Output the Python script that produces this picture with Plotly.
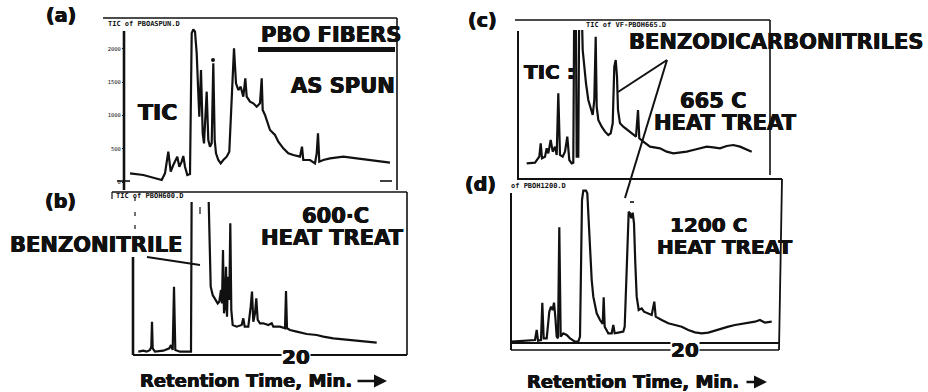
import plotly.graph_objects as go

W, H = 928, 392

# ---------------- data (retention time in minutes, TIC abundance in counts) -------------
# (a) PBO fibers as spun
A_TIME = [5.70, 7.03, 8.87, 9.20, 9.53, 9.77, 10.03, 10.27, 10.43, 10.63, 10.87, 11.03, 11.20, 11.43,
          11.70, 11.87, 12.03, 12.20, 12.37, 12.53, 12.63, 12.80, 12.97, 13.10, 13.23, 13.37, 13.53,
          13.70, 13.87, 14.03, 14.17, 14.30, 14.53, 14.77, 15.03, 15.37, 15.63, 15.87, 16.10, 16.30,
          16.53, 16.77, 17.03, 17.23, 17.37, 17.70, 18.03, 18.37, 18.70, 18.87, 18.97, 19.20, 19.70,
          20.20, 20.53, 21.03, 21.53, 22.03, 22.70, 22.90, 23.03, 23.70, 24.20, 24.37, 24.50, 24.63,
          25.03, 25.70, 27.03, 28.37, 29.70, 30.70, 31.70]
A_TIC = [130, 105, 30, 130, 455, 155, 255, 330, 380, 230, 305, 390, 230, 105,
         120, 2230, 2290, 2255, 1930, 1330, 980, 1680, 730, 580, 1080, 1355, 630,
         530, 580, 1780, 630, 430, 330, 280, 330, 380, 455, 1230, 2005, 1480,
         1380, 1430, 1280, 1555, 1280, 1205, 1180, 1130, 1180, 1555, 1080, 1005, 780,
         705, 605, 505, 430, 405, 380, 530, 330, 330, 280, 430, 730, 305,
         330, 355, 380, 355, 330, 320, 290]

# (b) 600 C heat treat
B_TIME = [4.23, 4.73, 5.07, 5.40, 5.53, 5.60, 5.67, 5.90, 6.73, 7.33, 7.50, 7.67, 7.80, 7.93, 8.40,
          9.23, 9.50, 9.57, 11.20, 11.27, 11.33, 11.40, 11.47, 11.67, 11.90, 12.17, 12.33, 12.50,
          12.60, 12.70, 12.80, 12.90, 13.00, 13.10, 13.20, 13.33, 13.43, 13.53, 13.67, 14.07, 14.57,
          14.73, 14.87, 15.23, 15.47, 15.60, 15.73, 15.90, 16.03, 16.17, 16.40, 16.73, 17.23, 17.57,
          17.73, 18.40, 18.90, 19.00, 19.10, 19.40, 20.07, 21.07, 22.07, 22.73, 23.73, 24.73, 25.73,
          26.73, 27.40, 28.07]
B_TIC = [20, 35, 20, 45, 95, 470, 70, 20, 35, 70, 120, 45, 995, 45, 20,
         20, 20, 2600, 2600, 2270, 1845, 1345, 995, 870, 820, 745, 770, 945,
         745, 1545, 595, 695, 1295, 545, 1145, 795, 1945, 645, 420, 395, 420,
         520, 395, 395, 695, 920, 470, 595, 820, 495, 445, 445, 420, 445,
         395, 395, 370, 930, 370, 345, 320, 285, 270, 245, 220, 205, 195,
         180, 160, 155]

# (c) 665 C heat treat
C_TIME = [4.17, 5.00, 5.43, 5.57, 5.70, 6.00, 6.17, 6.33, 6.57, 6.77, 7.00, 7.17, 7.33, 7.50, 7.77,
          8.00, 8.23, 8.43, 8.67, 8.83, 8.93, 9.07, 9.17, 9.33, 9.43, 9.63, 9.77, 9.90, 10.10, 10.33,
          10.60, 10.77, 10.93, 11.07, 11.17, 11.33, 11.67, 12.00, 12.33, 12.57, 12.77, 12.93, 13.07,
          13.20, 13.30, 13.50, 13.83, 14.50, 15.10, 15.30, 15.43, 15.83, 16.50, 17.50, 18.17, 18.83,
          19.50, 20.17, 20.83, 21.50, 22.17, 22.83, 23.50, 24.17, 24.83, 25.50, 26.17, 26.67]
C_TIC = [10, 20, 110, 310, 85, 110, 235, 160, 360, 185, 260, 135, 1060, 135, 110,
         185, 410, 60, 10, 20, 2600, 2600, 110, 110, 2600, 2600, 1710, 1460, 1210, 960,
         810, 735, 960, 1910, 860, 660, 560, 485, 435, 460, 610, 1460, 1560,
         1310, 810, 610, 560, 485, 410, 810, 385, 335, 260, 235, 185, 160,
         170, 185, 210, 235, 260, 250, 235, 270, 285, 260, 210, 185]

# (d) 1200 C heat treat
D_TIME = [2.67, 4.50, 5.00, 5.17, 5.30, 5.60, 5.73, 5.87, 6.17, 6.43, 6.60, 6.77, 6.90, 7.03, 7.17,
          7.30, 7.43, 7.57, 7.83, 8.17, 8.50, 9.00, 9.33, 9.50, 9.60, 9.70, 9.83, 10.10, 10.23, 10.37,
          10.50, 10.67, 10.83, 11.17, 11.50, 11.77, 11.87, 11.97, 12.33, 12.67, 12.83, 12.97, 13.33,
          13.83, 13.97, 14.10, 14.23, 14.37, 14.50, 14.63, 14.77, 14.90, 15.03, 15.17, 15.37, 15.67,
          15.90, 16.33, 16.67, 16.93, 17.07, 17.67, 18.33, 19.00, 19.67, 20.33, 21.00, 21.67, 22.33,
          23.00, 23.67, 24.33, 25.00, 25.67, 26.33, 27.00, 27.50, 28.00, 28.67]
D_TIC = [5, 20, 30, 180, 20, 30, 590, 55, 55, 455, 530, 480, 590, 380, 80,
         55, 1720, 80, 130, 105, 55, 5, 5, 80, 1080, 2130, 2270, 2270, 2230, 1830,
         1330, 930, 680, 430, 330, 270, 670, 230, 130, 130, 255, 130, 140,
         155, 230, 830, 1580, 1955, 1930, 1855, 1940, 1780, 1180, 680, 480, 505,
         455, 430, 405, 605, 380, 330, 280, 255, 230, 180, 145, 130, 140,
         170, 205, 230, 255, 270, 290, 305, 330, 290, 305]

A_YTICKS = [0, 500, 1000, 1500, 2000]
A_YTICK_LABELS = ["0", "500", "1000", "1500", "2000"]
D_XTICKS = [7.3, 11.9, 16.5, 26.2]
D_XTICK_LABELS = ["10", "12", "14", "18"]


def fx(x):
    return x / W


def fy(y):
    return 1 - y / H


INK = "#111111"
FONT = "DejaVu Sans"
HEAVY = "0.45px 0 0 #111111, -0.45px 0 0 #111111, 0 0.35px 0 #111111"

fig = go.Figure()
for i, (t, v) in enumerate([(A_TIME, A_TIC), (B_TIME, B_TIC), (C_TIME, C_TIC), (D_TIME, D_TIC)]):
    sfx = "" if i == 0 else str(i + 1)
    fig.add_trace(go.Scatter(x=t, y=v, xaxis="x" + sfx, yaxis="y" + sfx, mode="lines",
                             line=dict(color=INK, width=2.2), hoverinfo="skip"))

hidden = dict(visible=False, showgrid=False, zeroline=False, fixedrange=True)
fig.update_layout(
    width=W, height=H, margin=dict(l=0, r=0, t=0, b=0),
    paper_bgcolor="white", plot_bgcolor="white", showlegend=False,
    xaxis=dict(hidden, domain=[fx(103), fx(397)], range=[3, 32.4], anchor="y"),
    yaxis=dict(domain=[fy(190), fy(19)], range=[-120, 2445], anchor="free", position=fx(124),
               visible=True, showgrid=False, zeroline=False, showline=False,
               tickvals=A_YTICKS, ticktext=A_YTICK_LABELS, ticks="outside", ticklen=2,
               tickcolor=INK, tickfont=dict(family="DejaVu Sans Mono", size=5.5, color=INK)),
    xaxis2=dict(hidden, domain=[fx(112), fx(407)], range=[1.6, 31.1], anchor="y2"),
    yaxis2=dict(hidden, domain=[fy(355), fy(202)], range=[-30, 2265], anchor="x2"),
    xaxis3=dict(hidden, domain=[fx(515), fx(770)], range=[3, 28.5], anchor="y3"),
    yaxis3=dict(hidden, domain=[fy(178), fy(30)], range=[-210, 2010], anchor="x3"),
    xaxis4=dict(hidden, domain=[fx(510), fx(780)], range=[2.5, 29.5], anchor="y4"),
    yaxis4=dict(hidden, domain=[fy(343), fy(180)], range=[-15, 2430], anchor="x4"),
    xaxis5=dict(overlaying="x4", anchor="free", position=fy(350), side="bottom",
                range=[2.5, 29.5], showgrid=False, zeroline=False, showline=False,
                tickvals=D_XTICKS, ticktext=D_XTICK_LABELS, ticks="outside", ticklen=3,
                tickcolor=INK, tickwidth=1.5,
                tickfont=dict(family="DejaVu Sans Mono", size=5, color=INK)),
)

shapes = []


def seg(x0, y0, x1, y1, w=1.6):
    shapes.append(dict(type="line", xref="paper", yref="paper", x0=fx(x0), y0=fy(y0),
                       x1=fx(x1), y1=fy(y1), line=dict(color=INK, width=w)))


# panel (a) frame
seg(103, 18, 397, 18)
seg(397, 18, 397, 190)
seg(124, 31, 124, 190, 2.6)
seg(117, 181, 130, 181)
seg(380, 181, 392, 181)
shapes.append(dict(type="rect", xref="paper", yref="paper", x0=fx(258), y0=fy(52), x1=fx(395),
                   y1=fy(47), line=dict(width=0), fillcolor=INK))
shapes.append(dict(type="circle", xref="paper", yref="paper", x0=fx(211), y0=fy(62), x1=fx(215),
                   y1=fy(58), line=dict(width=0), fillcolor=INK))
# panel (b) frame
seg(112, 192, 407, 192)
seg(407, 192, 407, 355)
seg(133, 257, 133, 355, 2.6)
seg(133, 355, 407, 355, 2)
seg(112, 192, 112, 199, 1.2)
seg(135, 197, 135, 201, 1.2)
seg(135, 212, 135, 216, 1.2)
seg(135, 225, 135, 229, 1.2)
seg(200, 207, 200, 214, 1.2)
seg(147, 257, 200, 265, 2)  # benzonitrile leader
# panel (c) frame
seg(515, 20, 770, 20)
seg(770, 20, 770, 175)
seg(518, 31, 518, 179, 2)
seg(517, 179, 782, 179, 1.8)
# panel (d) frame
seg(782, 179, 779, 350, 1.8)
seg(511, 193, 511, 350, 2)
seg(511, 343, 779, 343, 2)
seg(511, 350, 779, 350, 1.6)
seg(630, 202, 634, 202, 1.6)
# benzodicarbonitriles leaders
seg(667, 60, 618, 92, 2)
seg(667, 60, 625, 198, 2)

anns = []


def txt(s, x, y, size=21, family=FONT, bold=True, bg=None, anchor="center", heavy=True):
    font = dict(family=family, size=size, color=INK)
    if heavy:
        font["shadow"] = HEAVY
    a = dict(text=("<b>%s</b>" % s) if bold else s, xref="paper", yref="paper", x=fx(x), y=fy(y),
             xanchor=anchor, yanchor="middle", showarrow=False, font=font, borderpad=0)
    if bg:
        a["bgcolor"] = bg
    anns.append(a)


def arrow(x0, x1, y):
    anns.append(dict(text="", xref="paper", yref="paper", axref="pixel", ayref="pixel",
                     x=fx(x1), y=fy(y), ax=-(x1 - x0), ay=0, showarrow=True, arrowhead=2,
                     arrowsize=1, arrowwidth=2.6, arrowcolor=INK, standoff=0, startstandoff=0))


txt("(a)", 61, 15, 19)
txt("(b)", 60, 201, 19)
txt("(c)", 482, 20, 19)
txt("(d)", 481, 184, 19)
txt("PBO FIBERS", 331, 35, 21)
txt("AS SPUN", 343, 86, 21)
txt("TIC", 157, 112, 22)
txt("BENZONITRILE", 96, 245, 21)
txt("600·C", 335, 216, 21)
txt("HEAT TREAT", 332, 238, 21)
txt("20", 296, 357, 20, bg="white")
txt("Retention Time, Min.", 246, 380, 18)
arrow(356, 387, 381)
txt("TIC :", 549, 72, 20)
txt("BENZODICARBONITRILES", 776, 42, 21)
txt("665 C", 713, 101, 21)
txt("HEAT TREAT", 725, 123, 21)
txt("1200 C", 708, 225, 20)
txt("HEAT TREAT", 725, 247, 20)
txt("20", 685, 350, 20, bg="white")
txt("Retention Time, Min.", 633, 381, 18)
arrow(745, 767, 382)
# tiny printout headers
txt("TIC of PBOASPUN.D", 107, 24, 7, family="DejaVu Sans Mono", anchor="left", heavy=False)
txt("TIC of PBOH600.D", 115, 196, 7, family="DejaVu Sans Mono", anchor="left", heavy=False)
txt("TIC of VF-PBOH665.D", 585, 25, 7, family="DejaVu Sans Mono", anchor="left", heavy=False)
txt("of PBOH1200.D", 510, 186, 7, family="DejaVu Sans Mono", anchor="left", heavy=False)

fig.update_layout(shapes=shapes, annotations=anns)
fig.write_html("out.html")
